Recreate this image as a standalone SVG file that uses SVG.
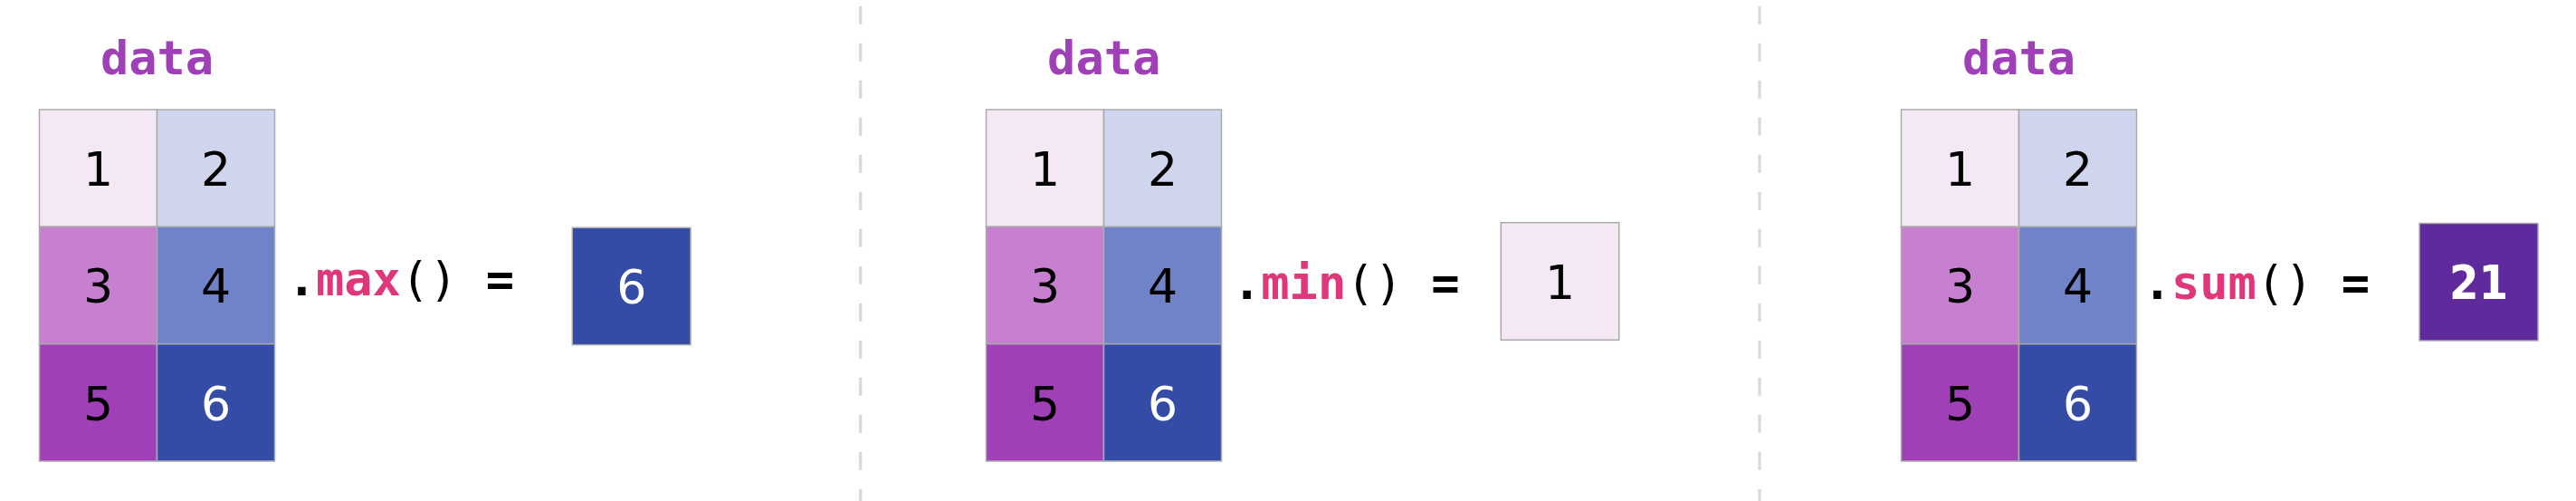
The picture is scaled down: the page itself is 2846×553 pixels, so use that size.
<svg xmlns="http://www.w3.org/2000/svg" width="2846" height="553" viewBox="0 0 2846 553">
<style>
.bg{fill:#ffffff}
.cell{stroke:#aaaaaa;stroke-width:1.5}
.c1{fill:#f5e8f5}.c2{fill:#d0d5ee}.c3{fill:#c780d0}.c4{fill:#7083c8}.c5{fill:#a040b6}.c6{fill:#344ca6}.csum{fill:#5e2a9c}
.num{font-family:"DejaVu Sans","Liberation Sans",sans-serif;font-size:52px;text-anchor:middle;fill:#000}
.w{fill:#ffffff}
.cond{font-family:"DejaVu Sans Condensed","DejaVu Sans","Liberation Sans",sans-serif;font-stretch:condensed}
.title{font-family:"DejaVu Sans Mono","Liberation Mono",monospace;font-size:52px;font-weight:bold;fill:#a040b8;text-anchor:middle}
.op{font-family:"DejaVu Sans Mono","Liberation Mono",monospace;font-size:52px;fill:#000}
.b{font-weight:bold}
.fn{font-weight:bold;fill:#e0377b}
.div{stroke:#d9d9d9;stroke-width:3.3;stroke-dasharray:20 21}
</style>
<defs>
<g id="grid">
<rect class="cell c1" x="0" y="0" width="130" height="129.33"/>
<rect class="cell c2" x="130" y="0" width="130" height="129.33"/>
<rect class="cell c3" x="0" y="129.33" width="130" height="129.33"/>
<rect class="cell c4" x="130" y="129.33" width="130" height="129.33"/>
<rect class="cell c5" x="0" y="258.67" width="130" height="129.33"/>
<rect class="cell c6" x="130" y="258.67" width="130" height="129.33"/>
<text class="num" x="65" y="84">1</text>
<text class="num" x="195" y="84">2</text>
<text class="num" x="65" y="213.3">3</text>
<text class="num" x="195" y="213.3">4</text>
<text class="num" x="65" y="342.7">5</text>
<text class="num w" x="195" y="342.7">6</text>
</g>
</defs>
<rect class="bg" x="0" y="0" width="2846" height="553"/>
<g id="dividers">
<line class="div" x1="950.7" y1="6.7" x2="950.7" y2="553"/>
<line class="div" x1="1944" y1="6.7" x2="1944" y2="553"/>
</g>
<g id="connectors"/>
<g id="panel-max">
<g id="max-title"><text class="title" x="173.5" y="82">data</text></g>
<g id="max-grid" transform="translate(43.5,121)"><use href="#grid"/></g>
<g id="max-op"><text class="op" x="317.7" y="326"><tspan class="b">.</tspan><tspan class="fn">max</tspan>() <tspan class="b">=</tspan></text></g>
<g id="max-result"><rect class="cell c6" x="632.3" y="251.3" width="130.7" height="129.3"/><text class="num w" x="697.7" y="335">6</text></g>
</g>
<g id="panel-min">
<g id="min-title"><text class="title" x="1219.7" y="82">data</text></g>
<g id="min-grid" transform="translate(1089.5,121)"><use href="#grid"/></g>
<g id="min-op"><text class="op" x="1362" y="330"><tspan class="b">.</tspan><tspan class="fn">min</tspan>() <tspan class="b">=</tspan></text></g>
<g id="min-result"><rect class="cell c1" x="1658.3" y="245.7" width="130.4" height="129.6"/><text class="num" x="1723.5" y="329.5">1</text></g>
</g>
<g id="panel-sum">
<g id="sum-title"><text class="title" x="2230.5" y="82">data</text></g>
<g id="sum-grid" transform="translate(2100.5,121)"><use href="#grid"/></g>
<g id="sum-op"><text class="op" x="2367.7" y="330"><tspan class="b">.</tspan><tspan class="fn">sum</tspan>() <tspan class="b">=</tspan></text></g>
<g id="sum-result"><rect class="cell csum" x="2673" y="246.5" width="131" height="129.5"/><text class="num cond w b" x="2738.5" y="330">21</text></g>
</g>
</svg>
